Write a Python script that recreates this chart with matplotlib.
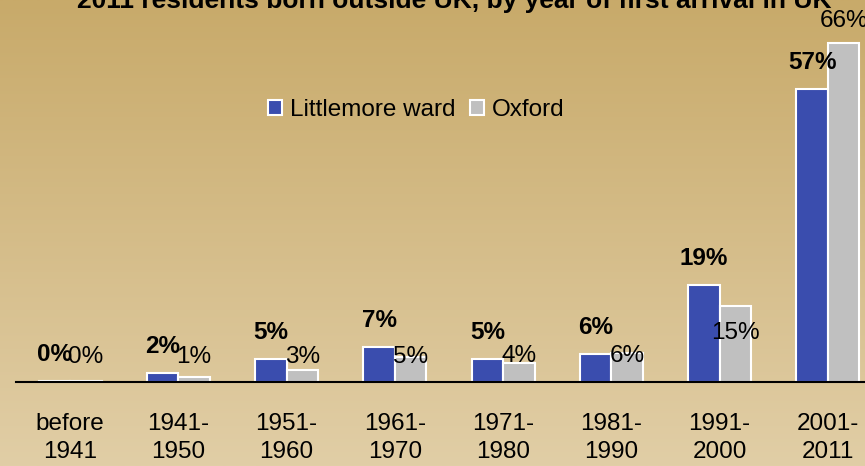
import matplotlib.pyplot as plt
import numpy as np

categories = ["before\n1941", "1941-\n1950", "1951-\n1960", "1961-\n1970",
              "1971-\n1980", "1981-\n1990", "1991-\n2000", "2001-\n2011"]
littlemore = [0.2, 1.8, 4.5, 6.8, 4.4, 5.5, 18.9, 57.0]
oxford = [0.2, 1.0, 2.4, 4.9, 3.7, 5.6, 14.8, 66.0]
littlemore_labels = ["0%", "2%", "5%", "7%", "5%", "6%", "19%", "57%"]
oxford_labels = ["0%", "1%", "3%", "5%", "4%", "6%", "15%", "66%"]
# where the Oxford labels sit (data units), as in the original
oxford_label_y = [4.9, 4.9, 4.9, 4.9, 5.0, 5.0, 9.5, 70.1]

BLUE = "#3a4dae"
GREY = "#c0c0c0"
plt.rcParams["font.family"] = ["Liberation Sans", "DejaVu Sans"]

fig = plt.figure(figsize=(8.65, 4.66), dpi=100)

# gradient background
bg = fig.add_axes([0, 0, 1, 1], zorder=0)
top = np.array([200, 170, 106]) / 255
bot = np.array([225, 206, 166]) / 255
t = np.linspace(0, 1, 256)[:, None]
grad = top * (1 - t[..., None]) + bot * t[..., None]
bg.imshow(grad, aspect="auto", extent=[0, 1, 0, 1])
bg.axis("off")

ax = fig.add_axes([16 / 865, 84 / 466, 866 / 865, 360 / 466], zorder=1)
ax.patch.set_alpha(0)
x = np.arange(len(categories))
w = 0.29
ax.bar(x - w / 2, littlemore, w, color=BLUE, edgecolor="white", linewidth=1.5,
       label="Littlemore ward")
ax.bar(x + w / 2, oxford, w, color=GREY, edgecolor="white", linewidth=1.5,
       label="Oxford")
ax.set_xlim(-0.5, len(categories) - 0.5)
ax.set_ylim(0, 70)

for xi, v, lab in zip(x, littlemore, littlemore_labels):
    ax.annotate(lab, (xi - w / 2, v), xytext=(0, 19), textcoords="offset points",
                ha="center", va="center", fontsize=17.5, fontweight="bold",
                annotation_clip=False)
for xi, y, lab in zip(x, oxford_label_y, oxford_labels):
    ax.text(xi + w / 2, y, lab, ha="center", va="center", fontsize=17.5, clip_on=False)

for s in ["top", "right", "left"]:
    ax.spines[s].set_visible(False)
ax.spines["bottom"].set_linewidth(1.5)
ax.set_yticks([])
ax.set_xticks(x)
ax.set_xticklabels(categories, fontsize=17.5, linespacing=1.4)
ax.tick_params(axis="x", length=0, pad=22)

ax.legend(loc="center", bbox_to_anchor=(416 / 865, 1 - 110 / 466),
          bbox_transform=fig.transFigure, ncol=2, frameon=False,
          fontsize=17.5, handlelength=0.6, handleheight=0.6,
          handletextpad=0.3, columnspacing=0.6)

fig.text(454 / 865, 1 - 8 / 466,
         "2011 residents born outside UK, by year of first arrival in UK",
         ha="center", va="baseline", fontsize=19, fontweight="bold")

fig.savefig("out.png", dpi=100)
